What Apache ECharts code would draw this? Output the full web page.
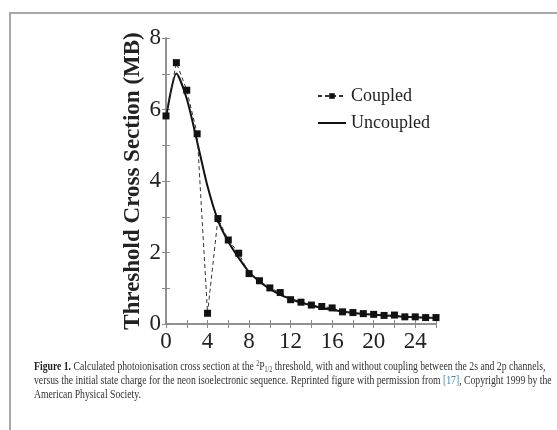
<!DOCTYPE html>
<html>
<head>
<meta charset="utf-8">
<script src="https://cdn.jsdelivr.net/npm/echarts@6/dist/echarts.min.js"></script>
<style>
  html, body { margin: 0; padding: 0; background: #fff; }
  #chart { width: 557px; height: 430px; }
</style>
</head>
<body>
<div id="chart"></div>
<script>
// initial state charge (x) and threshold cross sections (MB)
const charges = [0, 1, 2, 3, 4, 5, 6, 7, 8, 9, 10, 11, 12, 13, 14, 15, 16, 17, 18, 19, 20, 21, 22, 23, 24, 25, 26]
const coupled = [5.82, 7.31, 6.54, 5.32, 0.30, 2.95, 2.35, 1.98, 1.41, 1.21, 1.01, 0.88, 0.68, 0.61, 0.53, 0.49, 0.45, 0.34, 0.32, 0.29, 0.27, 0.24, 0.25, 0.20, 0.20, 0.18, 0.18]
const uncoupled = [5.75, 7.01, 6.30, 5.10, 3.85, 2.90, 2.30, 1.85, 1.45, 1.19, 0.98, 0.82, 0.70, 0.60, 0.52, 0.45, 0.40, 0.35, 0.31, 0.28, 0.26, 0.24, 0.22, 0.20, 0.19, 0.18, 0.17]
const xTickLabels = ['0', '4', '8', '12', '16', '20', '24']
const yTickLabels = ['0', '2', '4', '6', '8']

const captionLines = [
  '{b|Figure 1.} Calculated photoionisation cross section at the {sup|2}P{sub|1/2} threshold, with and without coupling between the 2s and 2p channels,',
  'versus the initial state charge for the neon isoelectronic sequence. Reprinted figure with permission from {blue|[17]}, Copyright 1999 by the',
  'American Physical Society.'
]

const chart = echarts.init(document.getElementById('chart'))

const serif = '"Liberation Serif", "DejaVu Serif", serif'
const axisGray = '#8a8a8a'

// caption font is condensed in the source, squeeze it to fit the same width
const ctx = document.createElement('canvas').getContext('2d')
ctx.font = '13px "Liberation Serif"'
const plain = captionLines[0].replace(/\{\w+\|([^}]*)\}/g, '$1')
const squeeze = 516 / ctx.measureText(plain).width

const pairs = (ys) => charges.map((x, i) => [x, ys[i]])

const xAxisBase = {
  type: 'value',
  min: 0,
  max: 26,
  interval: 2,
  axisLine: { show: true, lineStyle: { color: axisGray, width: 1.5 } },
  axisTick: { show: true, inside: false, length: 4, lineStyle: { color: axisGray } },
  splitLine: { show: false }
}
const yAxisBase = {
  type: 'value',
  min: 0,
  max: 8,
  interval: 1,
  axisLine: { show: true, lineStyle: { color: axisGray, width: 1.5 } },
  axisTick: { show: true, inside: false, length: 4, lineStyle: { color: axisGray } },
  splitLine: { show: false }
}

const option = {
  animation: false,
  backgroundColor: '#fff',
  grid: { left: 166, right: 121, top: 38, bottom: 106 },
  legend: {
    orient: 'vertical',
    left: 312,
    top: 82,
    itemWidth: 28,
    itemHeight: 7,
    itemGap: 9,
    textStyle: { fontFamily: serif, fontSize: 18, color: '#222' },
    data: [
      { name: 'Coupled' },
      { name: 'Uncoupled', itemStyle: { opacity: 0 } }
    ]
  },
  xAxis: [
    Object.assign({}, xAxisBase, {
      position: 'bottom',
      axisLabel: {
        fontFamily: serif,
        fontSize: 23,
        color: '#222',
        margin: 6,
        formatter: (v) => xTickLabels.includes(String(v)) ? String(v) : ''
      }
    }),
    Object.assign({}, xAxisBase, { position: 'top', axisLabel: { show: false } })
  ],
  yAxis: [
    Object.assign({}, yAxisBase, {
      position: 'left',
      name: 'Threshold Cross Section (MB)',
      nameLocation: 'middle',
      nameGap: 21,
      nameTextStyle: { fontFamily: serif, fontSize: 23, fontWeight: 'bold', color: '#222' },
      axisLabel: {
        fontFamily: serif,
        fontSize: 23,
        color: '#222',
        margin: 5,
        formatter: (v) => yTickLabels.includes(String(v)) ? String(v) : ''
      }
    }),
    Object.assign({}, yAxisBase, { position: 'right', axisLabel: { show: false } })
  ],
  series: [
    {
      name: 'Coupled',
      type: 'line',
      data: pairs(coupled),
      symbol: 'rect',
      symbolSize: 7,
      itemStyle: { color: '#111' },
      lineStyle: { color: '#333', width: 1, type: [4, 3] },
      z: 3
    },
    {
      name: 'Uncoupled',
      type: 'line',
      data: pairs(uncoupled),
      symbol: 'none',
      smooth: 0.25,
      itemStyle: { color: '#111' },
      lineStyle: { color: '#111', width: 2 },
      z: 2
    }
  ],
  graphic: [
    {
      type: 'polyline',
      shape: { points: [[10, 430], [10, 13], [557, 13]] },
      style: { stroke: '#a8a8a8', lineWidth: 2, fill: null },
      silent: true
    }
  ].concat(captionLines.map((line, i) => ({
    type: 'text',
    x: 34,
    y: 367 + i * 14,
    scaleX: squeeze,
    silent: true,
    style: {
      text: line,
      font: '13px "Liberation Serif"',
      fill: '#333',
      verticalAlign: 'middle',
      rich: {
        b: { fontWeight: 'bold', fontSize: 13, fontFamily: 'Liberation Serif', fill: '#222' },
        sup: { fontSize: 8, fontFamily: 'Liberation Serif', padding: [0, 0, 7, 0] },
        sub: { fontSize: 8, fontFamily: 'Liberation Serif', padding: [6, 0, 0, 0] },
        blue: { fontSize: 13, fontFamily: 'Liberation Serif', fill: '#3a86c4' }
      }
    }
  })))
}

chart.setOption(option)
window.addEventListener('resize', () => {
  chart.resize()
})
</script>
</body>
</html>
